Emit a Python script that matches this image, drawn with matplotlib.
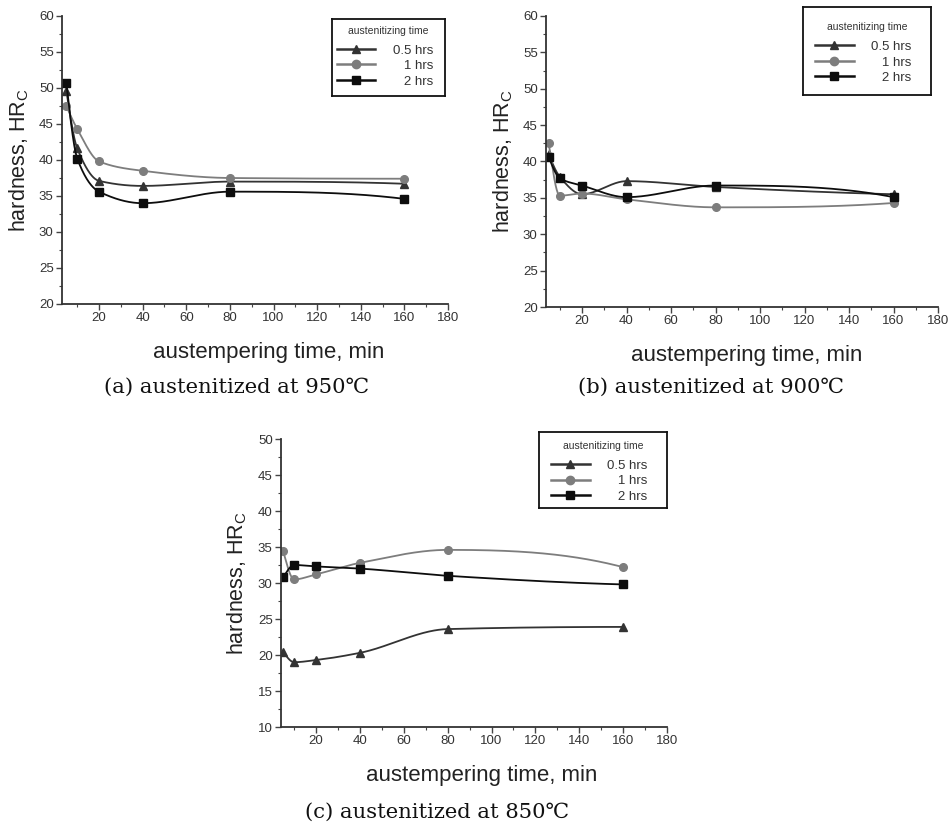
import numpy as np
import matplotlib
matplotlib.use("Agg")
import matplotlib.pyplot as plt
from matplotlib.lines import Line2D
from matplotlib.ticker import MultipleLocator

plt.rcParams['font.family'] = ['Liberation Sans', 'DejaVu Sans']
plt.rcParams['mathtext.fontset'] = 'custom'
plt.rcParams['mathtext.rm'] = 'Liberation Sans'

# ---------------- data ----------------
austemper_time = [5, 10, 20, 40, 80, 160]
series_labels = ["0.5 hrs", "1 hrs", "2 hrs"]

# (a) austenitized at 950C
a_05 = [49.6, 41.6, 37.1, 36.4, 37.0, 36.7]
a_1 = [47.5, 44.3, 39.8, 38.5, 37.5, 37.4]
a_2 = [50.7, 40.2, 35.6, 34.0, 35.6, 34.6]

# (b) austenitized at 900C
b_05 = [41.0, 37.9, 35.5, 37.3, 36.5, 35.5]
b_1 = [42.5, 35.3, 35.6, 34.8, 33.7, 34.3]
b_2 = [40.6, 37.7, 36.7, 35.1, 36.7, 35.1]

# (c) austenitized at 850C
c_05 = [20.4, 19.0, 19.3, 20.3, 23.6, 23.9]
c_1 = [34.4, 30.5, 31.2, 32.8, 34.6, 32.2]
c_2 = [30.8, 32.5, 32.3, 32.0, 31.0, 29.8]

captions = ["(a) austenitized at 950\u2103",
            "(b) austenitized at 900\u2103",
            "(c) austenitized at 850\u2103"]
legend_title = "austenitizing time"
xlabel = "austempering time, min"
ylabel = r"hardness, HR$_\mathrm{C}$"


def pchip(x, y, xs):
    x = np.asarray(x, float)
    y = np.asarray(y, float)
    n = len(x)
    h = np.diff(x)
    d = np.diff(y) / h
    m = np.zeros(n)
    for i in range(1, n - 1):
        if d[i - 1] * d[i] <= 0:
            m[i] = 0.0
        else:
            w1 = 2 * h[i] + h[i - 1]
            w2 = h[i] + 2 * h[i - 1]
            m[i] = (w1 + w2) / (w1 / d[i - 1] + w2 / d[i])

    def end(h0, h1, d0, d1):
        v = ((2 * h0 + h1) * d0 - h0 * d1) / (h0 + h1)
        if np.sign(v) != np.sign(d0):
            v = 0.0
        elif np.sign(d0) != np.sign(d1) and abs(v) > abs(3 * d0):
            v = 3 * d0
        return v

    m[0] = end(h[0], h[1], d[0], d[1])
    m[-1] = end(h[-1], h[-2], d[-1], d[-2])
    idx = np.clip(np.searchsorted(x, xs) - 1, 0, n - 2)
    hh = h[idx]
    t = (xs - x[idx]) / hh
    h00 = 2 * t ** 3 - 3 * t ** 2 + 1
    h10 = t ** 3 - 2 * t ** 2 + t
    h01 = -2 * t ** 3 + 3 * t ** 2
    h11 = t ** 3 - t ** 2
    return h00 * y[idx] + h10 * hh * m[idx] + h01 * y[idx + 1] + h11 * hh * m[idx + 1]


styles = [dict(color="#333333", marker="^"),
          dict(color="#7d7d7d", marker="o"),
          dict(color="#0d0d0d", marker="s")]

fig = plt.figure(figsize=(9.51, 8.25), dpi=100)

# axes rect, data, ylim, xmin, legend rect, title y, entries y, caption pos, xlabel x
panels = [
    ([62 / 951, 1 - 304 / 825, 386 / 951, 288 / 825], (a_05, a_1, a_2), (20, 60), 3,
     [332 / 951, 1 - 96 / 825, 113 / 951, 77 / 825], 0.844, 0.39, (237 / 951, 1 - 387 / 825), 0.535),
    ([546 / 951, 1 - 307 / 825, 392 / 951, 291 / 825], (b_05, b_1, b_2), (20, 60), 3.8,
     [803 / 951, 1 - 95 / 825, 128 / 951, 88 / 825], 0.77, 0.37, (711 / 951, 1 - 387 / 825), 0.513),
    ([281 / 951, 1 - 727 / 825, 386 / 951, 288 / 825], (c_05, c_1, c_2), (10, 50), 4,
     [539 / 951, 1 - 508 / 825, 128 / 951, 76 / 825], 0.815, 0.355, (437 / 951, 1 - 812 / 825), 0.52),
]

xs = np.linspace(austemper_time[0], austemper_time[-1], 600)

for k, (rect, data, ylim, xmin, legrect, ty, ey, cappos, xlx) in enumerate(panels):
    ax = fig.add_axes(rect)
    for vals, st in zip(data, styles):
        ax.plot(xs, pchip(austemper_time, vals, xs), color=st["color"], lw=1.3)
        ax.plot(austemper_time, vals, linestyle="none", marker=st["marker"],
                color=st["color"], markersize=5.5)
    ax.set_xlim(xmin, 180)
    ax.set_ylim(*ylim)
    ax.xaxis.set_major_locator(MultipleLocator(20))
    ax.xaxis.set_minor_locator(MultipleLocator(10))
    ax.yaxis.set_major_locator(MultipleLocator(5))
    ax.yaxis.set_minor_locator(MultipleLocator(2.5))
    for s in ("top", "right"):
        ax.spines[s].set_visible(False)
    for s in ("left", "bottom"):
        ax.spines[s].set_color("#333333")
        ax.spines[s].set_linewidth(1.3)
    ax.tick_params(which="major", direction="out", length=4, width=1, color="#444444",
                   labelsize=9.5, labelcolor="#333333", pad=2)
    ax.tick_params(which="minor", direction="out", length=2.5, width=0.8, color="#444444")
    ax.set_xlabel(xlabel, fontsize=16, color="#222222", labelpad=12.5)
    ax.xaxis.label.set_x(xlx)
    ax.set_ylabel(ylabel, fontsize=15.5, color="#222222", labelpad=6)

    # legend box
    lax = fig.add_axes(legrect)
    lax.set_xticks([])
    lax.set_yticks([])
    for s in lax.spines.values():
        s.set_linewidth(1.3)
        s.set_color("#111111")
    lax.text(0.5, ty, legend_title, transform=lax.transAxes, ha="center", va="center",
             fontsize=7.5, color="#333333")
    handles = [Line2D([], [], color=st["color"], marker=st["marker"], lw=1.8, markersize=6)
               for st in styles]
    labels = ["0.5 hrs", "   1 hrs", "   2 hrs"]
    leg = lax.legend(handles, labels, loc="center", bbox_to_anchor=(0.47, ey),
                     frameon=False, fontsize=9.5, handlelength=2.95,
                     handletextpad=1.35, labelspacing=0.25, borderpad=0.0)
    for t in leg.get_texts():
        t.set_color("#333333")

    fig.text(cappos[0], cappos[1], captions[k], ha="center", va="center", fontsize=15.2,
             family=["DejaVu Serif", "Noto Sans CJK KR"], color="#111111")

fig.savefig("out.png", dpi=100)
